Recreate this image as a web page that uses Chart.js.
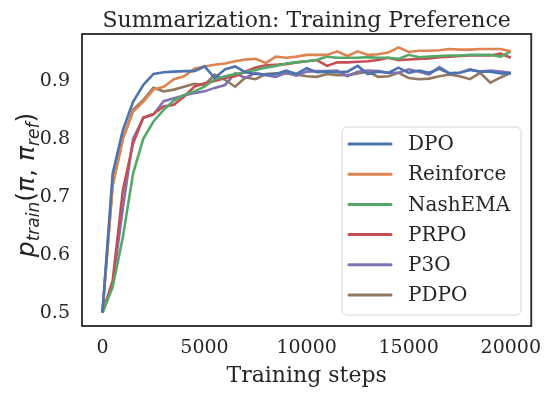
<!DOCTYPE html>
<html>
<head>
<meta charset="utf-8">
<script src="https://cdn.jsdelivr.net/npm/chart.js@4/dist/chart.umd.min.js"></script>
<style>
html,body{margin:0;padding:0;background:#fff;}
#wrap{width:553px;height:395px;position:relative;}
</style>
</head>
<body>
<div id="wrap"><canvas id="c" width="553" height="395"></canvas></div>
<script>
const steps = [0,500,1000,1500,2000,2500,3000,3500,4000,4500,5000,5500,6000,6500,7000,7500,8000,8500,9000,9500,10000,10500,11000,11500,12000,12500,13000,13500,14000,14500,15000,15500,16000,16500,17000,17500,18000,18500,19000,19500,20000];
const seriesNames = ['DPO','Reinforce','NashEMA','PRPO','P3O','PDPO'];
const seriesColors = ['#4C72B0','#DD8452','#55A868','#C44E52','#8172B3','#937860'];
const dpo = [0.50,0.74,0.815,0.864,0.893,0.912,0.915,0.916,0.917,0.917,0.925,0.905,0.920,0.925,0.915,0.912,0.911,0.912,0.918,0.912,0.922,0.915,0.916,0.915,0.916,0.926,0.912,0.916,0.914,0.923,0.914,0.918,0.914,0.921,0.913,0.914,0.919,0.916,0.916,0.913,0.913];
const reinforce = [0.50,0.72,0.80,0.847,0.864,0.885,0.890,0.903,0.908,0.921,0.925,0.928,0.930,0.934,0.937,0.938,0.931,0.942,0.940,0.942,0.945,0.945,0.945,0.951,0.943,0.951,0.945,0.946,0.949,0.958,0.950,0.952,0.952,0.953,0.955,0.954,0.954,0.955,0.955,0.955,0.951];
const nashema = [0.50,0.544,0.63,0.74,0.80,0.83,0.85,0.866,0.876,0.882,0.890,0.903,0.908,0.912,0.915,0.919,0.923,0.926,0.930,0.932,0.934,0.936,0.942,0.940,0.940,0.940,0.941,0.940,0.940,0.938,0.945,0.941,0.942,0.943,0.944,0.944,0.945,0.945,0.945,0.942,0.951];
const prpo = [0.50,0.555,0.711,0.792,0.837,0.843,0.856,0.859,0.873,0.890,0.896,0.900,0.905,0.908,0.916,0.923,0.927,0.928,0.929,0.932,0.934,0.936,0.926,0.932,0.932,0.933,0.934,0.936,0.940,0.936,0.937,0.938,0.939,0.941,0.942,0.943,0.944,0.944,0.944,0.947,0.940];
const p3o = [0.50,0.548,0.68,0.80,0.836,0.842,0.865,0.870,0.875,0.879,0.882,0.888,0.893,0.913,0.905,0.914,0.910,0.907,0.914,0.909,0.916,0.917,0.917,0.918,0.908,0.916,0.918,0.917,0.914,0.914,0.920,0.916,0.911,0.924,0.913,0.914,0.920,0.916,0.918,0.916,0.914];
const pdpo = [0.50,0.72,0.80,0.850,0.867,0.888,0.882,0.885,0.890,0.895,0.893,0.911,0.902,0.890,0.906,0.903,0.912,0.913,0.913,0.911,0.908,0.907,0.912,0.910,0.910,0.913,0.916,0.907,0.908,0.914,0.905,0.903,0.904,0.908,0.911,0.908,0.903,0.914,0.897,0.906,0.914];
const seriesValues = [dpo, reinforce, nashema, prpo, p3o, pdpo];
const xTicks = [0,5000,10000,15000,20000];
const yTicks = [0.5,0.6,0.7,0.8,0.9];
const yTickLabels = ['0.5','0.6','0.7','0.8','0.9'];
const titleText = 'Summarization: Training Preference';
const xLabel = 'Training steps';

const TXT = '#262626';
const SERIF = '"DejaVu Serif", serif';

const datasets = seriesNames.map((name, k) => ({
  label: name,
  data: seriesValues[k].map((v, i) => ({x: steps[i], y: v})),
  borderColor: seriesColors[k],
  backgroundColor: seriesColors[k],
  borderWidth: 2.6,
  pointRadius: 0,
  tension: 0,
  fill: false
}));

const decor = {
  id: 'decor',
  afterDraw(chart) {
    const ctx = chart.ctx;
    const a = chart.chartArea;
    ctx.save();
    // frame
    ctx.strokeStyle = TXT;
    ctx.lineWidth = 1.8;
    ctx.strokeRect(a.left, a.top, a.right - a.left, a.bottom - a.top);
    // title
    ctx.fillStyle = TXT;
    ctx.font = '22px ' + SERIF;
    ctx.textAlign = 'center';
    ctx.textBaseline = 'alphabetic';
    ctx.fillText(titleText, (a.left + a.right) / 2, 27);
    // x label
    ctx.fillText(xLabel, (a.left + a.right) / 2, 382);
    // y label with subscripts
    ctx.save();
    ctx.translate(34, 185);
    ctx.rotate(-Math.PI / 2);
    const parts = [
      {t: 'p', f: 'italic 25px "DejaVu Sans"', dy: 0},
      {t: 'train', f: 'italic 17px "DejaVu Sans"', dy: 5},
      {t: '(', f: '25px "DejaVu Sans"', dy: 0},
      {t: 'π', f: 'italic 25px "DejaVu Sans"', dy: 0},
      {t: ', ', f: '25px "DejaVu Sans"', dy: 0},
      {t: 'π', f: 'italic 25px "DejaVu Sans"', dy: 0},
      {t: 'ref', f: 'italic 17px "DejaVu Sans"', dy: 5},
      {t: ')', f: '25px "DejaVu Sans"', dy: 0}
    ];
    let total = 0;
    parts.forEach(p => { ctx.font = p.f; p.w = ctx.measureText(p.t).width; total += p.w; });
    let x = -total / 2;
    ctx.textAlign = 'left';
    parts.forEach(p => { ctx.font = p.f; ctx.fillText(p.t, x, p.dy); x += p.w; });
    ctx.restore();
    // legend
    const lx = 342, ly = 127, lw = 179, lh = 188, r = 5;
    ctx.beginPath();
    ctx.moveTo(lx + r, ly);
    ctx.arcTo(lx + lw, ly, lx + lw, ly + lh, r);
    ctx.arcTo(lx + lw, ly + lh, lx, ly + lh, r);
    ctx.arcTo(lx, ly + lh, lx, ly, r);
    ctx.arcTo(lx, ly, lx + lw, ly, r);
    ctx.closePath();
    ctx.fillStyle = 'rgba(255,255,255,0.8)';
    ctx.fill();
    ctx.strokeStyle = '#d6d6d6';
    ctx.lineWidth = 1;
    ctx.stroke();
    ctx.font = '20px ' + SERIF;
    ctx.textBaseline = 'middle';
    ctx.textAlign = 'left';
    seriesNames.forEach((name, k) => {
      const yy = 144 + k * 30.2;
      ctx.strokeStyle = seriesColors[k];
      ctx.lineWidth = 3;
      ctx.lineCap = 'round';
      ctx.beginPath();
      ctx.moveTo(349, yy);
      ctx.lineTo(391, yy);
      ctx.stroke();
      ctx.fillStyle = TXT;
      ctx.fillText(name, 408, yy + 1);
    });
    ctx.restore();
  }
};

new Chart(document.getElementById('c'), {
  type: 'line',
  data: { datasets },
  options: {
    responsive: false,
    animation: false,
    layout: { padding: { top: 34, right: 21, left: 0, bottom: 0 } },
    plugins: { legend: { display: false }, title: { display: false }, tooltip: { enabled: false } },
    scales: {
      x: {
        type: 'linear',
        min: -1000, max: 21000,
        grid: { display: false, drawTicks: false },
        border: { display: false },
        afterFit(s) { s.height = 69; },
        afterBuildTicks(s) { s.ticks = xTicks.map(v => ({value: v})); },
        ticks: { padding: 11, color: TXT, font: { family: SERIF, size: 19 }, maxRotation: 0, autoSkip: false,
          callback: (v) => String(v) }
      },
      y: {
        type: 'linear',
        min: 0.477, max: 0.981,
        grid: { display: false, drawTicks: false },
        border: { display: false },
        afterFit(s) { s.width = 82; },
        afterBuildTicks(s) { s.ticks = yTicks.map(v => ({value: v})); },
        ticks: { padding: 12, color: TXT, font: { family: SERIF, size: 19 }, autoSkip: false,
          callback: (v, i) => yTickLabels[i] }
      }
    }
  },
  plugins: [decor]
});
</script>
</body>
</html>
